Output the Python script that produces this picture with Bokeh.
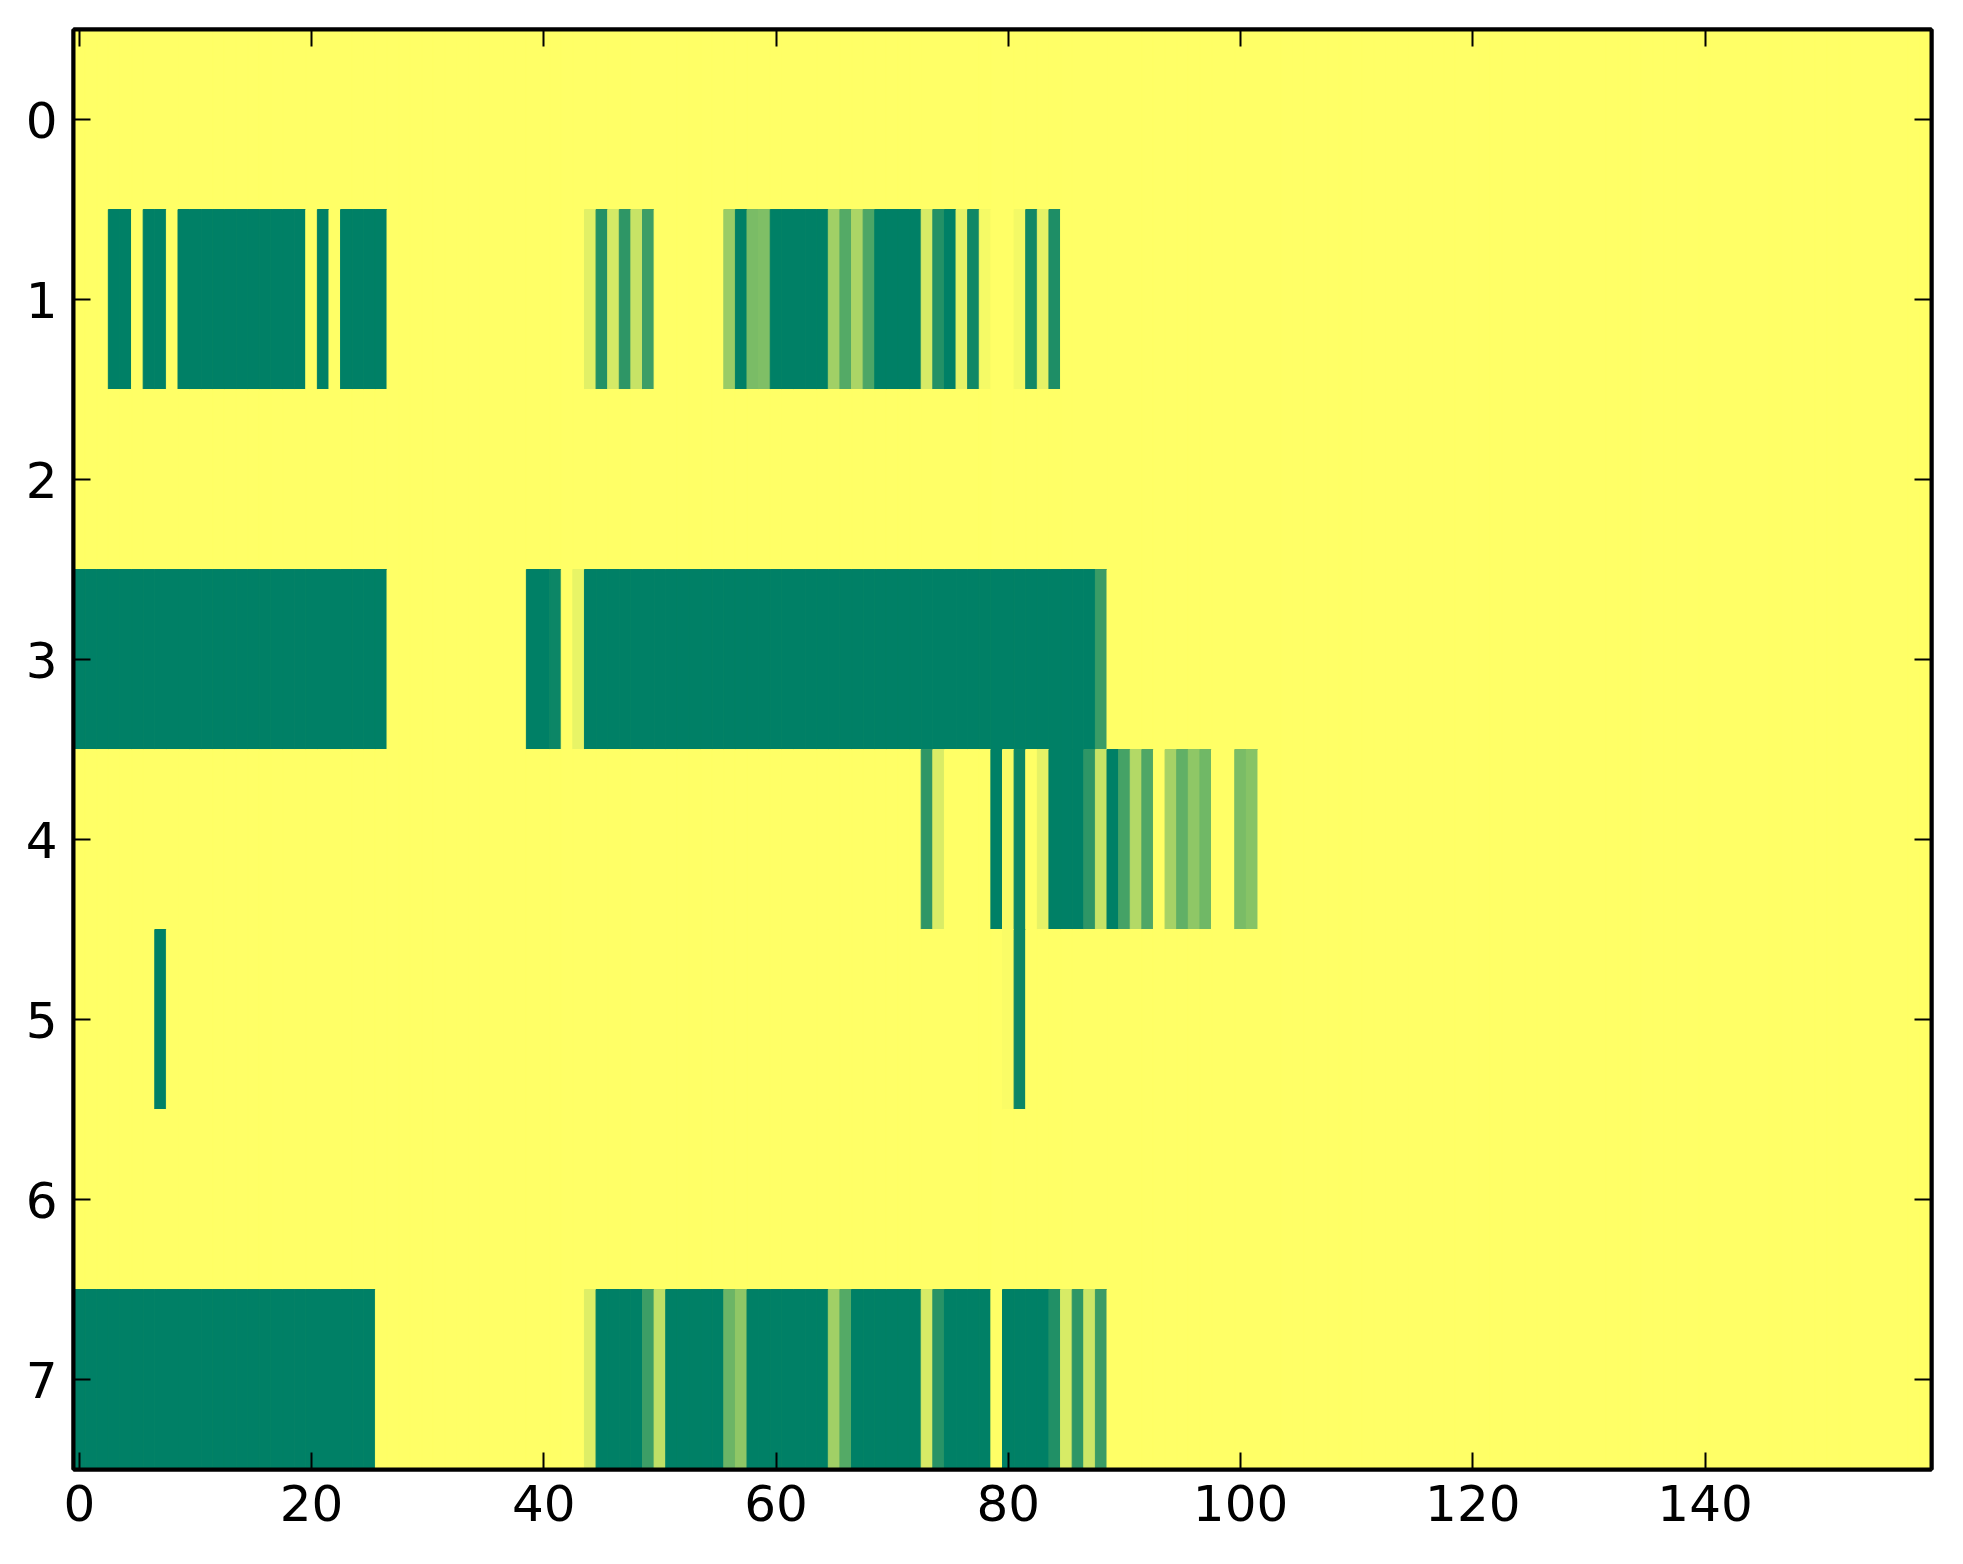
import numpy as np
from bokeh.plotting import figure
from bokeh.models import ColumnDataSource, Range1d, LinearAxis, FixedTicker, LinearColorMapper
from bokeh.embed import file_html
from bokeh.resources import INLINE

# ---------------- data ----------------
n_cols = 160
row_ticks = [0, 1, 2, 3, 4, 5, 6, 7]
x_ticks = [0, 20, 40, 60, 80, 100, 120, 140]

# non-zero cells per row: {column: value}; every other cell is 0
row_0 = {}
row_1 = {3: 1.0, 4: 1.0, 6: 1.0, 7: 1.0, 9: 1.0, 10: 1.0, 11: 1.0, 12: 1.0, 13: 1.0,
         14: 1.0, 15: 1.0, 16: 1.0, 17: 1.0, 18: 1.0, 19: 1.0, 21: 1.0, 23: 1.0, 24: 1.0,
         25: 1.0, 26: 1.0, 44: 0.12, 45: 0.86, 46: 0.17, 47: 0.82, 48: 0.22, 49: 0.76,
         56: 0.40, 57: 1.0, 58: 0.52, 59: 0.50, 60: 1.0, 61: 1.0, 62: 1.0, 63: 1.0, 64: 1.0,
         65: 0.37, 66: 0.67, 67: 0.33, 68: 0.70, 69: 1.0, 70: 1.0, 71: 1.0, 72: 1.0,
         73: 0.16, 74: 0.86, 75: 1.0, 76: 0.10, 77: 0.93, 78: 0.04, 81: 0.05, 82: 0.93,
         83: 0.10, 84: 0.88}
row_2 = {}
row_3 = {0: 1.0, 1: 1.0, 2: 1.0, 3: 1.0, 4: 1.0, 5: 1.0, 6: 1.0, 7: 1.0, 8: 1.0, 9: 1.0,
         10: 1.0, 11: 1.0, 12: 1.0, 13: 1.0, 14: 1.0, 15: 1.0, 16: 1.0, 17: 1.0, 18: 1.0,
         19: 1.0, 20: 1.0, 21: 1.0, 22: 1.0, 23: 1.0, 24: 1.0, 25: 1.0, 26: 1.0,
         39: 1.0, 40: 1.0, 41: 0.95, 43: 0.09,
         44: 1.0, 45: 1.0, 46: 1.0, 47: 1.0, 48: 1.0, 49: 1.0, 50: 1.0, 51: 1.0, 52: 1.0,
         53: 1.0, 54: 1.0, 55: 1.0, 56: 1.0, 57: 1.0, 58: 1.0, 59: 1.0, 60: 1.0, 61: 1.0,
         62: 1.0, 63: 1.0, 64: 1.0, 65: 1.0, 66: 1.0, 67: 1.0, 68: 1.0, 69: 1.0, 70: 1.0,
         71: 1.0, 72: 1.0, 73: 1.0, 74: 1.0, 75: 1.0, 76: 1.0, 77: 1.0, 78: 1.0, 79: 1.0,
         80: 1.0, 81: 1.0, 82: 1.0, 83: 1.0, 84: 1.0, 85: 1.0, 86: 1.0, 87: 1.0, 88: 0.77}
row_4 = {73: 0.82, 74: 0.15, 79: 1.0, 80: 0.03, 81: 0.95, 83: 0.10, 84: 1.0, 85: 1.0,
         86: 1.0, 87: 0.82, 88: 0.22, 89: 1.0, 90: 0.73, 91: 0.30, 92: 0.69, 94: 0.35,
         95: 0.62, 96: 0.44, 97: 0.56, 100: 0.52, 101: 0.47}
row_5 = {7: 1.0, 80: 0.02, 81: 0.95}
row_6 = {}
row_7 = {0: 1.0, 1: 1.0, 2: 1.0, 3: 1.0, 4: 1.0, 5: 1.0, 6: 1.0, 7: 1.0, 8: 1.0, 9: 1.0,
         10: 1.0, 11: 1.0, 12: 1.0, 13: 1.0, 14: 1.0, 15: 1.0, 16: 1.0, 17: 1.0, 18: 1.0,
         19: 1.0, 20: 1.0, 21: 1.0, 22: 1.0, 23: 1.0, 24: 1.0, 25: 1.0,
         44: 0.13, 45: 1.0, 46: 1.0, 47: 1.0, 48: 1.0, 49: 0.76, 50: 0.25, 51: 1.0,
         52: 1.0, 53: 1.0, 54: 1.0, 55: 1.0, 56: 0.58, 57: 0.44, 58: 1.0, 59: 1.0,
         60: 1.0, 61: 1.0, 62: 1.0, 63: 1.0, 64: 1.0, 65: 0.37, 66: 0.67, 67: 1.0,
         68: 1.0, 69: 1.0, 70: 1.0, 71: 1.0, 72: 1.0, 73: 0.16, 74: 0.84, 75: 1.0,
         76: 1.0, 77: 1.0, 78: 1.0, 80: 1.0, 81: 1.0, 82: 1.0, 83: 1.0, 84: 0.87,
         85: 0.16, 86: 0.82, 87: 0.20, 88: 0.77}

rows = [row_0, row_1, row_2, row_3, row_4, row_5, row_6, row_7]

# ---------------- build cells ----------------
xs, ys, vs = [], [], []
for r, cells in zip(row_ticks, rows):
    for c in range(n_cols):
        xs.append(c)
        ys.append(r)
        vs.append(cells.get(c, 0.0))
src = ColumnDataSource(dict(x=xs, y=ys, v=vs))

# matplotlib "summer_r" colormap
palette = ["#%02x%02x%02x" % (int(round(255 * (1 - t))), int(round(255 * (1 - t / 2))), 102)
           for t in np.linspace(0, 1, 256)]
mapper = LinearColorMapper(palette=palette, low=0, high=1)

p = figure(frame_width=1858, frame_height=1440,
           x_range=Range1d(-0.5, n_cols - 0.5), y_range=Range1d(7.5, -0.5),
           output_backend="svg", toolbar_location=None,
           min_border_left=73, min_border_right=20, min_border_top=29, min_border_bottom=75,
           background_fill_color="#ffff66", border_fill_color="white")

p.rect(x="x", y="y", width=1, height=1, source=src,
       fill_color={"field": "v", "transform": mapper},
       line_color={"field": "v", "transform": mapper}, line_width=1)

p.grid.visible = False
p.outline_line_color = "black"
p.outline_line_width = 4

bottom = p.xaxis[0]
left = p.yaxis[0]
bottom.ticker = FixedTicker(ticks=x_ticks)
left.ticker = FixedTicker(ticks=row_ticks)

top = LinearAxis(ticker=FixedTicker(ticks=x_ticks),
                 major_label_overrides={t: "" for t in x_ticks})
right = LinearAxis(ticker=FixedTicker(ticks=row_ticks),
                   major_label_overrides={t: "" for t in row_ticks})
p.add_layout(top, "above")
p.add_layout(right, "right")

for ax in [bottom, left, top, right]:
    ax.axis_line_color = "black"
    ax.axis_line_width = 4
    ax.major_tick_in = 17
    ax.major_tick_out = 0
    ax.major_tick_line_width = 2
    ax.major_tick_line_color = "black"
    ax.minor_tick_line_color = None
    ax.major_label_text_font = "DejaVu Sans"
    ax.major_label_text_font_size = "50px"
    ax.major_label_text_color = "black"

top.major_label_text_font_size = "0px"
right.major_label_text_font_size = "0px"
top.major_label_standoff = 0
right.major_label_standoff = 0

bottom.major_label_standoff = 15
left.major_label_standoff = 16

open("out.html", "w").write(file_html(p, INLINE))
